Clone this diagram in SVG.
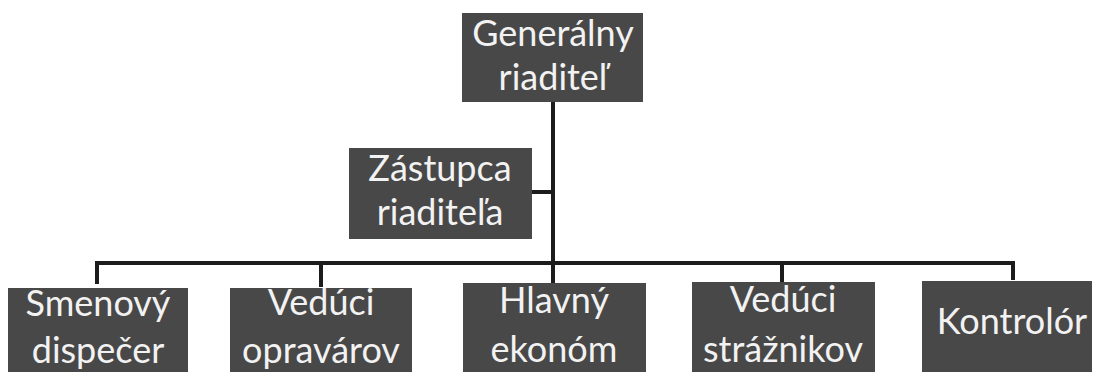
<svg xmlns="http://www.w3.org/2000/svg" width="1093" height="372" viewBox="0 0 1093 372">
<style>
.box{fill:#484848}
.t{font-family:Lato,"Liberation Sans",sans-serif;font-size:36px;fill:#f2f2f2;text-anchor:middle}
.c{stroke:#1c1c1c;stroke-width:4;fill:none}
</style>
<rect width="1093" height="372" fill="#ffffff"/>
<g id="connectors">
<path class="c" d="M553 102 V262"/>
<path class="c" d="M532 192 H553"/>
<path class="c" d="M97 284 V263 H1013 V280"/>
<path class="c" d="M321 263 V287"/>
<path class="c" d="M553 262 V283"/>
<path class="c" d="M782 262 V282"/>
</g>
<g id="n-generalny">
<rect class="box" x="462" y="13" width="181" height="89"/>
<text class="t" x="553" y="46">Generálny</text>
<text class="t" x="553" y="90">riaditeľ</text>
</g>
<g id="n-zastupca">
<rect class="box" x="349" y="148" width="183" height="91"/>
<text class="t" x="440" y="181">Zástupca</text>
<text class="t" x="440" y="225">riaditeľa</text>
</g>
<g id="n-smenovy">
<rect class="box" x="8" y="288" width="180" height="84"/>
<text class="t" x="98" y="316">Smenový</text>
<text class="t" x="98" y="363">dispečer</text>
</g>
<g id="n-veduci-opravarov">
<rect class="box" x="230" y="288" width="182" height="84"/>
<text class="t" x="321" y="315">Vedúci</text>
<text class="t" x="321" y="363">opravárov</text>
</g>
<g id="n-hlavny">
<rect class="box" x="463" y="283" width="183" height="89"/>
<text class="t" x="554" y="313">Hlavný</text>
<text class="t" x="554" y="362">ekonóm</text>
</g>
<g id="n-veduci-straznikov">
<rect class="box" x="692" y="282" width="183" height="90"/>
<text class="t" x="783" y="312">Vedúci</text>
<text class="t" x="783" y="362">strážnikov</text>
</g>
<g id="n-kontrolor">
<rect class="box" x="922" y="281" width="170" height="91"/>
<text class="t" x="1012" y="334">Kontrolór</text>
</g>
</svg>
